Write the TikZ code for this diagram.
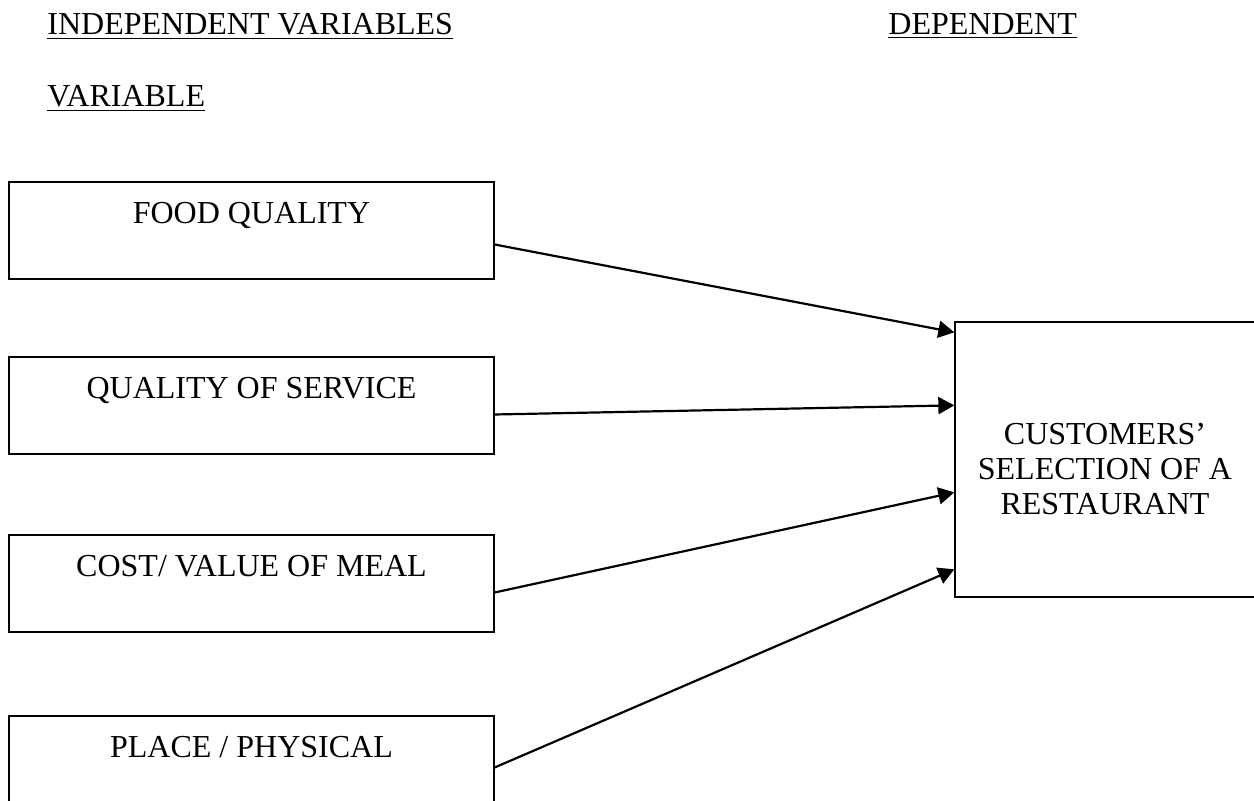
\documentclass[tikz,border=0pt]{standalone}
\usepackage{fontspec}
\setmainfont{Liberation Serif}
\usetikzlibrary{arrows.meta}

\begin{document}
\begin{tikzpicture}[x=0.5pt,y=-0.5pt,font=\fontsize{16}{17.5}\selectfont,
	>={Triangle[length=8pt,width=8.5pt]},
	var node/.style={rectangle,draw,line width=0.65pt,inner sep=0pt,
		minimum width=242.5pt,text height=21pt,text depth=27.5pt},
	dep node/.style={rectangle,draw,line width=0.65pt,inner sep=0pt,
		minimum width=150pt,align=center,text height=96.5pt,text depth=41pt},
	head/.style={anchor=base west,inner sep=0pt}]
	
	\useasboundingbox (0,0) rectangle (1254,801);
	
	\node[head] (indep) at (47,35) {\underline{INDEPENDENT VARIABLES}};
	\node[head] (var) at (47,107) {\underline{VARIABLE}};
	\node[head] (dep) at (888,35) {\underline{DEPENDENT}};
	
	\node[var node] (food) at (251.5,230.5) {FOOD QUALITY};
	\node[var node] (service) at (251.5,405.5) {QUALITY OF SERVICE};
	\node[var node] (cost) at (251.5,583.5) {COST/ VALUE OF MEAL};
	\node[var node] (place) at (251.5,764.5) {PLACE / PHYSICAL};
	\node[dep node] (sel) at (1105,459.5) {CUSTOMERS'\\SELECTION OF A\\RESTAURANT};
	
	\path[->,line width=1.1pt]
	([yshift=-7pt]food.east) edge ([yshift=-5.5pt]sel.north west)
	([yshift=-4.5pt]service.east) edge ([yshift=-42pt]sel.north west)
	([yshift=-4.5pt]cost.east) edge ([yshift=-85.5pt]sel.north west)
	([yshift=-1.5pt]place.east) edge ([yshift=-124pt]sel.north west);
\end{tikzpicture}
\end{document}
